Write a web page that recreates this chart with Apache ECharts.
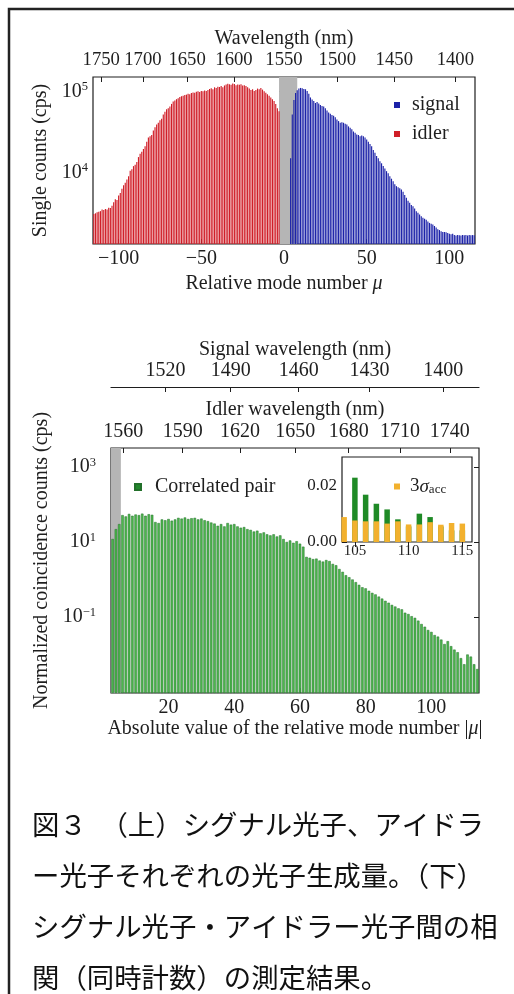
<!DOCTYPE html>
<html>
<head>
<meta charset="utf-8">
<title>Single counts and coincidence counts</title>
<script src="https://cdn.jsdelivr.net/npm/echarts@6.0.0/dist/echarts.min.js"></script>
<style>
  html, body { margin: 0; padding: 0; background: #fff; }
  #chart { width: 514px; height: 994px; }
</style>
</head>
<body>
<div id="chart"></div>
<script>
// mode number <-> wavelength (comb spacing ~0.2 THz around 1550 nm)
const C_LIGHT = 299792.458
const CENTER_NM = 1550
const FSR_THZ = 0.2
const F0 = C_LIGHT / CENTER_NM

// ---- top panel: single counts ----
const idlerStartMode = -115
const idlerCounts = [
  3100, 3150, 3250, 3300, 3350, 3500, 3450, 3550, 3500, 3700,
  3650, 3900, 4300, 4700, 4600, 5200, 5600, 6300, 7000, 7500,
  8200, 9000, 10500, 11000, 12000, 12500, 13500, 15500, 17000, 18000,
  19500, 21000, 24000, 27000, 28000, 29000, 33000, 36000, 39000, 41000,
  44000, 46000, 52000, 56000, 60000, 62000, 65000, 70000, 75000, 77000,
  80000, 82000, 85000, 87000, 88000, 90000, 91000, 93000, 92000, 95000,
  97000, 96000, 99000, 100000, 98000, 101000, 100000, 102000, 101000, 104000,
  107000, 109000, 106000, 112000, 110000, 114000, 113000, 116000, 112000, 118000,
  121000, 124000, 122000, 120000, 125000, 123000, 119000, 121000, 120000, 122000,
  118000, 119000, 116000, 112000, 108000, 104000, 106000, 101000, 104000, 108000,
  106000, 110000, 105000, 100000, 96000, 92000, 88000, 84000, 80000, 76000,
  70000, 62000, 57000
]
const signalStartMode = 4
const signalCounts = [
  15000, 52000, 78000, 95000, 103000, 108000, 110000, 109000, 107000, 106000,
  101000, 93000, 84000, 79000, 76000, 72000, 74000, 71000, 68000, 66000,
  65000, 62000, 58000, 55000, 53000, 51000, 50000, 48000, 45000, 43000,
  41000, 41500, 41000, 40000, 39000, 37000, 35500, 34000, 32000, 31000,
  29500, 29000, 28000, 28500, 28000, 27000, 25500, 24000, 22500, 21000,
  19000, 17500, 16000, 15000, 13800, 13000, 12000, 11200, 10400, 9800,
  9000, 8400, 7800, 7200, 6800, 6600, 6400, 6200, 5800, 5300,
  4900, 4500, 4250, 4000, 3850, 3600, 3350, 3200, 3050, 2900,
  2780, 2700, 2630, 2500, 2400, 2350, 2300, 2200, 2100, 2000,
  1960, 1900, 1860, 1850, 1840, 1800, 1760, 1740, 1760, 1700,
  1680, 1700, 1690, 1680, 1700, 1690, 1700, 1680, 1700, 1690,
  1700, 1690
]
const topModeTicks = [-100, -50, 0, 50, 100]
const topWavelengthTicks = [1750, 1700, 1650, 1600, 1550, 1500, 1450, 1400]
const topCountTicks = [1e4, 1e5]
const topBand = [-3, 8]

// ---- bottom panel: coincidence counts ----
const pairStartMode = 3
const pairCounts = [
  12, 22, 30, 52, 48, 56, 50, 54, 52, 57,
  50, 55, 53, 34, 32, 40, 38, 41, 37, 40,
  44, 42, 45, 41, 43, 44, 40, 42, 38, 36,
  33, 31, 27, 30, 26, 32, 29, 30, 26, 24,
  25, 22, 21, 19, 20, 17, 18, 16, 15, 16,
  14, 15, 12, 10, 11, 9.5, 10.5, 9, 7.5, 4.0,
  3.8, 3.5, 3.6, 3.2, 3.0, 3.3, 3.1, 2.6, 2.4, 1.9,
  1.6, 1.3, 1.15, 1.0, 0.85, 0.72, 0.62, 0.58, 0.5, 0.44,
  0.4, 0.35, 0.31, 0.27, 0.24, 0.21, 0.19, 0.17, 0.16, 0.13,
  0.12, 0.105, 0.095, 0.08, 0.065, 0.055, 0.045, 0.04, 0.033, 0.03,
  0.025, 0.019, 0.0227, 0.0167, 0.0135, 0.0115, 0.008, 0.0055, 0.010, 0.0088,
  0.0055, 0.0041
]
const bottomModeTicks = [20, 40, 60, 80, 100]
const idlerWavelengthTicks = [1560, 1590, 1620, 1650, 1680, 1710, 1740]
const signalWavelengthTicks = [1520, 1490, 1460, 1430, 1400]
const bottomCountTicks = [1e-1, 1e1, 1e3]
const bottomBand = [2.5, 5.5]

// ---- inset ----
const insetPairStartMode = 105
const insetPairCounts = [0.0227, 0.0167, 0.0135, 0.0115, 0.008, 0.0055, 0.010, 0.0088, 0.0055, 0.0041, 0.0041]
const insetAccStartMode = 104
const insetAccCounts = [0.0088, 0.0076, 0.0073, 0.0073, 0.0065, 0.0073, 0.0062, 0.0062, 0.007, 0.0061, 0.0067, 0.0065]
const insetModeTicks = [105, 110, 115]
const insetCountTicks = [0, 0.02]

const captionLines = [
  '図３　（上）シグナル光子、アイドラ',
  'ー光子それぞれの光子生成量。（下）',
  'シグナル光子・アイドラー光子間の相',
  '関（同時計数）の測定結果。'
]

const serif = 'Liberation Serif'
const ink = '#1e1e1e'
const fs = 20

const toPairs = (start, values) => values.map((v, i) => [start + i, v])
const wlToMode = nm => (C_LIGHT / nm - F0) / FSR_THZ
const modeToWl = m => Math.round(C_LIGHT / (F0 + m * FSR_THZ))
const signed = v => (v < 0 ? '\u2212' + (-v) : String(v))
const logLabel = v => {
  const e = Math.round(Math.log10(v))
  return '10{sup|' + (e < 0 ? '\u2212' + (-e) : e) + '}'
}

const textBase = { fontFamily: serif, color: ink, fontSize: fs }
const supRich = { sup: { fontFamily: serif, color: ink, fontSize: 12.5, padding: [0, 0, 9, 0] } }
const italicRich = { i: { fontFamily: serif, color: ink, fontSize: fs, fontStyle: 'italic' } }

const tick = (values, show = true) => ({
  show, inside: true, length: 5, customValues: values,
  lineStyle: { color: ink, width: 1 }
})
const label = (values, extra) => Object.assign({ customValues: values, ...textBase }, extra)
const noLine = { show: false }
const noSplit = { show: false }

const topWlModes = topWavelengthTicks.map(wlToMode)
const idlerModes = idlerWavelengthTicks.map(nm => -wlToMode(nm))
const signalModes = signalWavelengthTicks.map(wlToMode)

const topX = { min: -115.5, max: 115.5 }
const topY = { min: 1320, max: 150000 }
const botX = { min: 2.5, max: 114.5 }
const botY = { min: 0.00094, max: 3200 }
const insX = { min: 103.8, max: 115.9 }
const insY = { min: 0, max: 0.03 }

const option = {
  animation: false,
  backgroundColor: '#fff',
  grid: [
    { left: 93, right: 39, top: 77, height: 167, show: true, borderColor: ink, borderWidth: 1.2 },
    { left: 111, right: 35, top: 448, height: 245, show: true, borderColor: ink, borderWidth: 1.2 },
    { left: 342, right: 42, top: 457, height: 85, show: true, borderColor: ink, borderWidth: 1.2, backgroundColor: '#fff', z: 3 }
  ],
  xAxis: [
    {
      gridIndex: 0, type: 'value', position: 'bottom', ...topX,
      axisLine: noLine, splitLine: noSplit, axisTick: tick(topModeTicks),
      axisLabel: label(topModeTicks, { formatter: signed, margin: 5 }),
      name: 'Relative mode number {i|μ}', nameLocation: 'middle', nameGap: 30,
      nameTextStyle: { ...textBase, rich: italicRich }
    },
    {
      gridIndex: 0, type: 'value', position: 'top', ...topX,
      axisLine: noLine, splitLine: noSplit, axisTick: tick(topWlModes),
      axisLabel: label(topWlModes, { formatter: v => modeToWl(v), fontSize: 18.7, margin: 7 }),
      name: 'Wavelength (nm)', nameLocation: 'middle', nameGap: 28, nameTextStyle: textBase
    },
    {
      gridIndex: 1, type: 'value', position: 'bottom', ...botX,
      axisLine: noLine, splitLine: noSplit, axisTick: tick(bottomModeTicks),
      axisLabel: label(bottomModeTicks, { margin: 5 }),
      name: 'Absolute value of the relative mode number |{i|μ}|', nameLocation: 'middle', nameGap: 25,
      nameTextStyle: { ...textBase, rich: italicRich }
    },
    {
      gridIndex: 1, type: 'value', position: 'top', ...botX,
      axisLine: noLine, splitLine: noSplit, axisTick: tick(idlerModes),
      axisLabel: label(idlerModes, { formatter: v => modeToWl(-v), margin: 6 }),
      name: 'Idler wavelength (nm)', nameLocation: 'middle', nameGap: 28, nameTextStyle: textBase
    },
    {
      gridIndex: 1, type: 'value', position: 'top', offset: 61, ...botX,
      axisLine: { show: true, lineStyle: { color: ink, width: 1.2 } },
      splitLine: noSplit, axisTick: tick(signalModes),
      axisLabel: label(signalModes, { formatter: v => modeToWl(v), margin: 6 }),
      name: 'Signal wavelength (nm)', nameLocation: 'middle', nameGap: 27, nameTextStyle: textBase
    },
    {
      gridIndex: 2, type: 'value', position: 'bottom', ...insX,
      axisLine: noLine, splitLine: noSplit, axisTick: tick(insetModeTicks),
      axisLabel: label(insetModeTicks, { fontSize: 15, margin: 2 })
    },
    {
      gridIndex: 2, type: 'value', position: 'top', ...insX,
      axisLine: noLine, splitLine: noSplit, axisTick: tick(insetModeTicks),
      axisLabel: { show: false }
    }
  ],
  yAxis: [
    {
      gridIndex: 0, type: 'log', logBase: 10, position: 'left', ...topY, startValue: topY.min,
      axisLine: noLine, splitLine: noSplit, axisTick: tick(topCountTicks),
      axisLabel: label(topCountTicks, { formatter: logLabel, margin: 5, rich: supRich }),
      name: 'Single counts (cps)', nameLocation: 'middle', nameRotate: 90, nameGap: 41, nameTextStyle: textBase
    },
    {
      gridIndex: 0, type: 'log', logBase: 10, position: 'right', ...topY,
      axisLine: noLine, splitLine: noSplit, axisTick: tick(topCountTicks),
      axisLabel: { show: false }
    },
    {
      gridIndex: 1, type: 'log', logBase: 10, position: 'left', ...botY, startValue: botY.min,
      axisLine: noLine, splitLine: noSplit, axisTick: tick(bottomCountTicks),
      axisLabel: label(bottomCountTicks, { formatter: logLabel, margin: 15, rich: supRich }),
      name: 'Normalized coincidence counts (cps)', nameLocation: 'middle', nameRotate: 90, nameGap: 58,
      nameTextStyle: { ...textBase, padding: [0, 0, 0, 20] }
    },
    {
      gridIndex: 1, type: 'log', logBase: 10, position: 'right', ...botY,
      axisLine: noLine, splitLine: noSplit, axisTick: tick(bottomCountTicks),
      axisLabel: { show: false }
    },
    {
      gridIndex: 2, type: 'value', position: 'left', ...insY,
      axisLine: noLine, splitLine: noSplit, axisTick: tick(insetCountTicks),
      axisLabel: label(insetCountTicks, { formatter: v => v.toFixed(2), fontSize: 17, margin: 5 })
    },
    {
      gridIndex: 2, type: 'value', position: 'right', ...insY,
      axisLine: noLine, splitLine: noSplit, axisTick: tick([0.02]),
      axisLabel: { show: false }
    }
  ],
  legend: [
    {
      data: ['signal', 'idler'], orient: 'vertical', left: 389, top: 90,
      icon: 'rect', itemWidth: 6, itemHeight: 6, itemGap: 9, selectedMode: false,
      textStyle: { ...textBase, lineHeight: 19, padding: [0, 0, 0, 7] }
    },
    {
      data: [{ name: 'Correlated pair', itemStyle: { color: '#22882c' } }],
      left: 129, top: 472, icon: 'rect', itemWidth: 6, itemHeight: 6, selectedMode: false,
      textStyle: { ...textBase, lineHeight: 19, padding: [0, 0, 0, 9] }
    },
    {
      data: ['3σacc'], left: 389, top: 472, icon: 'rect', itemWidth: 6, itemHeight: 6, selectedMode: false,
      formatter: () => '3{i|σ}{sub|acc}', z: 5,
      textStyle: {
        ...textBase, fontSize: 19, lineHeight: 19, padding: [0, 0, 0, 5],
        rich: {
          i: { fontFamily: serif, color: ink, fontSize: 19, fontStyle: 'italic' },
          sub: { fontFamily: serif, color: ink, fontSize: 13, padding: [7, 0, 0, 0] }
        }
      }
    }
  ],
  series: [
    {
      name: 'idler', type: 'bar', xAxisIndex: 0, yAxisIndex: 0, z: 2,
      data: toPairs(idlerStartMode, idlerCounts),
      barWidth: 1.15, barGap: '-100%', itemStyle: { color: '#d01e28' },
      markArea: { silent: true, itemStyle: { color: '#b5b5b5' }, data: [[{ xAxis: topBand[0] }, { xAxis: topBand[1] }]] }
    },
    {
      name: 'signal', type: 'bar', xAxisIndex: 0, yAxisIndex: 0, z: 2,
      data: toPairs(signalStartMode, signalCounts),
      barWidth: 1.15, barGap: '-100%', itemStyle: { color: '#1c22a8' }
    },
    {
      name: 'Correlated pair', type: 'bar', xAxisIndex: 2, yAxisIndex: 2, z: 2,
      data: toPairs(pairStartMode, pairCounts),
      barWidth: 2.5, itemStyle: { color: '#4cb84c', borderColor: '#22702a', borderWidth: 0.5 },
      markArea: { silent: true, itemStyle: { color: '#b5b5b5' }, data: [[{ xAxis: bottomBand[0] }, { xAxis: bottomBand[1] }]] }
    },
    {
      name: 'Correlated pair', type: 'bar', xAxisIndex: 5, yAxisIndex: 4, z: 4,
      data: toPairs(insetPairStartMode, insetPairCounts),
      barWidth: 5.5, barGap: '-100%', itemStyle: { color: '#1f8a26' }
    },
    {
      name: '3σacc', type: 'bar', xAxisIndex: 5, yAxisIndex: 4, z: 4,
      data: toPairs(insetAccStartMode, insetAccCounts),
      barWidth: 5.5, barGap: '-100%', itemStyle: { color: '#f2b12e' }
    }
  ],
  graphic: [
    {
      type: 'polyline', silent: true,
      shape: { points: [[9, 994], [9, 9], [514, 9]] },
      style: { stroke: '#222', lineWidth: 2.5, fill: null }
    },
    ...captionLines.map((line, i) => ({
      type: 'text', x: 32, y: 825 + i * 51, silent: true,
      style: {
        text: line, fill: '#111', fontSize: 27.4,
        fontFamily: '"Noto Sans CJK JP", sans-serif', verticalAlign: 'middle'
      }
    }))
  ]
}

const chart = echarts.init(document.getElementById('chart'), null, { renderer: 'canvas' })
chart.setOption(option)
window.addEventListener('resize', () => chart.resize())
</script>
</body>
</html>
